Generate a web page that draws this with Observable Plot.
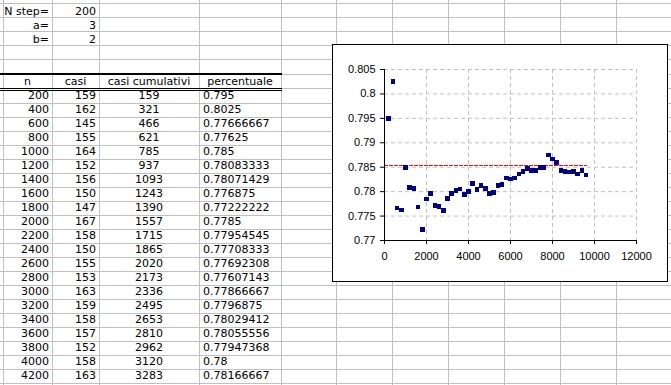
<!DOCTYPE html>
<html><head><meta charset="utf-8">
<script src="https://cdn.jsdelivr.net/npm/d3@7"></script>
<script src="https://cdn.jsdelivr.net/npm/@observablehq/plot@0.6"></script>
<style>
html,body{margin:0;padding:0;background:#fff;}
#sheet{position:relative;width:671px;height:385px;overflow:hidden;font-family:"DejaVu Sans",sans-serif;font-size:11px;color:#000;}
.v{position:absolute;top:0;width:1px;height:385px;background:#c0c0c0;}
.h{position:absolute;left:0;width:671px;height:1px;background:#c0c0c0;}
.b{position:absolute;background:#000;}
.c{position:absolute;height:14px;line-height:14px;white-space:nowrap;}
#chart{position:absolute;left:332px;top:44px;width:336px;height:238px;box-sizing:border-box;border:1px solid #000;background:#fff;}
#chart svg{display:block;}
</style></head>
<body><div id="sheet"><div id="chart"></div></div>
<script>
// ---- data ----
const params = ["N step=", "a=", "b="];
const paramValues = [200, 3, 2];
const headers = ["n", "casi", "casi cumulativi", "percentuale"];
const nVals = [200,400,600,800,1000,1200,1400,1600,1800,2000,2200,2400,2600,2800,3000,3200,3400,3600,3800,4000,4200,
  4400,4600,4800,5000,5200,5400,5600,5800,6000,6200,6400,6600,6800,7000,7200,7400,7600,7800,8000,8200,8400,8600,8800,9000,9200,9400,9600];
const casi = [159,162,145,155,164,152,156,150,147,167,158,150,155,153,163,159,158,157,152,158,163];
const casiCumulativi = [159,321,466,621,785,937,1093,1243,1390,1557,1715,1865,2020,2173,2336,2495,2653,2810,2962,3120,3283];
const percentuale = [0.795,0.8025,0.77666667,0.77625,0.785,0.78083333,0.78071429,0.776875,0.77222222,0.7785,0.77954545,
  0.77708333,0.77692308,0.77607143,0.77866667,0.7796875,0.78029412,0.78055556,0.77947368,0.78,0.78166667,
  0.7804,0.7812,0.7806,0.7797,0.7799,0.7812,0.7814,0.7828,0.7826,0.7828,0.7836,0.7842,0.7848,0.7844,0.7844,
  0.7850,0.7850,0.7875,0.7867,0.7859,0.7844,0.7842,0.7840,0.7842,0.7836,0.7844,0.7834];
const xTicks = [0,2000,4000,6000,8000,10000,12000];
const yTicks = [0.77,0.775,0.78,0.785,0.79,0.795,0.8,0.805];
const refX = [0, 9600];
const refY = [0.7854, 0.7854];

// ---- spreadsheet ----
const sheet = document.getElementById("sheet");
const chartDiv = document.getElementById("chart");
function add(cls, css, text) {
  const d = document.createElement("div");
  d.className = cls;
  Object.assign(d.style, css);
  if (text !== undefined) d.textContent = text;
  sheet.insertBefore(d, chartDiv);
  return d;
}
const colEdges = [3,52,99,199,281,336,392,448,504,560,616];
const rowEdges = [3,17,31,45,59,74,88];
for (let k = 0; k < 21; k++) rowEdges.push(103 + 14 * k);
colEdges.forEach(x => add("v", {left: x + "px"}));
rowEdges.forEach(y => add("h", {top: y + "px"}));
// table borders
add("b", {left: "0px", top: "73px", width: "282px", height: "2px"});
add("b", {left: "0px", top: "88px", width: "282px", height: "1px"});
add("b", {left: "0px", top: "90px", width: "282px", height: "1px"});

// parameter cells
params.forEach((p, i) => {
  const top = 5 + 14 * i;
  add("c", {left: "3px", width: "46px", top: top + "px", textAlign: "right"}, p);
  add("c", {left: "52px", width: "44px", top: top + "px", textAlign: "right"}, String(paramValues[i]));
});
// header
const hdrCols = [[3,49],[52,47],[99,100],[199,82]];
headers.forEach((h, i) => add("c", {left: hdrCols[i][0] + "px", width: hdrCols[i][1] + "px", top: "75px", textAlign: "center"}, h));
// data rows
for (let i = 0; i < casi.length; i++) {
  const top = 89 + 14 * i;
  add("c", {left: "3px", width: "46px", top: top + "px", textAlign: "right"}, String(nVals[i]));
  add("c", {left: "52px", width: "44px", top: top + "px", textAlign: "right"}, String(casi[i]));
  add("c", {left: "99px", width: "100px", top: top + "px", textAlign: "center"}, String(casiCumulativi[i]));
  add("c", {left: "203px", width: "78px", top: top + "px", textAlign: "left"}, String(percentuale[i]));
}

// ---- chart ----
const points = nVals.map((n, i) => ({n, p: percentuale[i]}));
const ref = refX.map((x, i) => ({x, y: refY[i]}));
const gridStyle = {stroke: "#c0c0c0", strokeOpacity: 1, strokeDasharray: "4,3"};
const chart = Plot.plot({
  width: 334, height: 236,
  marginLeft: 51, marginRight: 31, marginTop: 24, marginBottom: 41,
  style: {fontFamily: "'Liberation Sans', Arial, sans-serif", fontSize: "11px", background: "white", color: "black", overflow: "visible"},
  x: {domain: [0, 12000], axis: null},
  y: {domain: [0.77, 0.805], axis: null},
  marks: [
    Plot.gridX(xTicks.slice(1), gridStyle),
    Plot.gridY(yTicks.slice(1), gridStyle),
    Plot.line(ref, {x: "x", y: "y", stroke: "#ff0000", strokeDasharray: "3,2", shapeRendering: "crispEdges"}),
    Plot.ruleX([0], {stroke: "black"}),
    Plot.ruleY([0.77], {stroke: "black"}),
    Plot.axisX({ticks: xTicks, tickSize: 4, tickPadding: 8, tickFormat: d => String(d), label: null, fill: "black"}),
    Plot.axisY({ticks: yTicks, tickSize: 4, tickPadding: 5, tickFormat: d => String(d), label: null, fill: "black"}),
    Plot.dot(points, {x: "n", y: "p", symbol: "square", r: 2.7, fill: "#000080", stroke: null, shapeRendering: "crispEdges"})
  ]
});
chartDiv.appendChild(chart);
</script>
</body></html>
